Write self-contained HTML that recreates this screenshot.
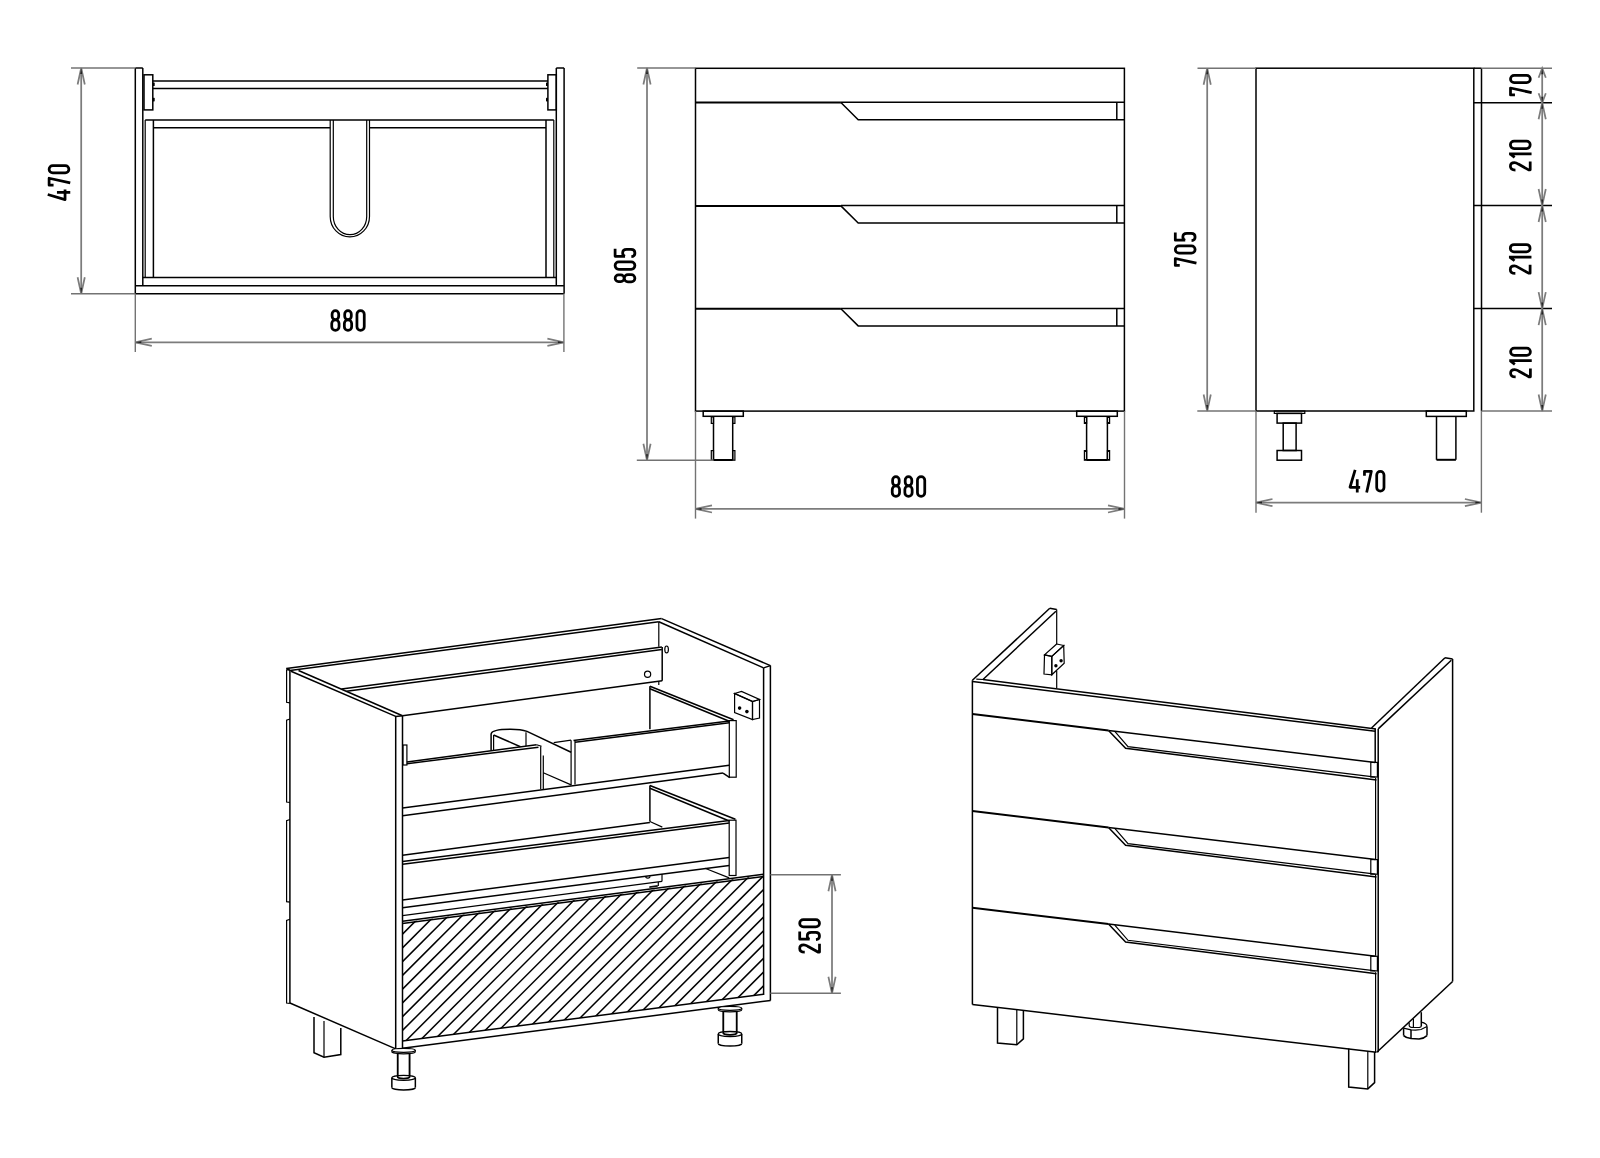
<!DOCTYPE html>
<html><head><meta charset="utf-8"><title>Cabinet drawing</title>
<style>
html,body{margin:0;padding:0;background:#fff;}
svg{display:block;}
.t{font-family:"Liberation Sans",sans-serif;font-weight:bold;font-size:31.7px;fill:#000;letter-spacing:1.5px;}
</style></head><body>
<svg width="1600" height="1158" viewBox="0 0 1600 1158" stroke-linecap="butt" stroke-linejoin="miter">
<rect width="1600" height="1158" fill="#fff"/>
<line x1="135.30" y1="68.00" x2="135.30" y2="293.80" stroke="#000" stroke-width="1.5" fill="none"/>
<line x1="142.80" y1="68.00" x2="142.80" y2="285.70" stroke="#000" stroke-width="1.5" fill="none"/>
<line x1="135.30" y1="68.00" x2="142.80" y2="68.00" stroke="#000" stroke-width="1.5" fill="none"/>
<line x1="556.30" y1="68.00" x2="564.10" y2="68.00" stroke="#000" stroke-width="1.5" fill="none"/>
<line x1="556.30" y1="68.00" x2="556.30" y2="285.60" stroke="#000" stroke-width="1.5" fill="none"/>
<line x1="564.10" y1="68.00" x2="564.10" y2="293.80" stroke="#000" stroke-width="1.5" fill="none"/>
<line x1="135.30" y1="285.70" x2="563.90" y2="285.70" stroke="#000" stroke-width="1.5" fill="none"/>
<line x1="135.30" y1="293.80" x2="563.90" y2="293.80" stroke="#000" stroke-width="1.5" fill="none"/>
<rect x="144.00" y="74.80" width="8.80" height="35.10" stroke="#000" stroke-width="1.5" fill="none"/>
<rect x="547.90" y="74.80" width="8.40" height="35.10" stroke="#000" stroke-width="1.5" fill="none"/>
<rect x="152.8" y="82.4" width="1.9" height="3.6" rx="0.6" fill="#000"/><rect x="152.8" y="97.8" width="1.9" height="3.6" rx="0.6" fill="#000"/>
<rect x="546.0" y="82.4" width="1.9" height="3.6" rx="0.6" fill="#000"/><rect x="546.0" y="97.8" width="1.9" height="3.6" rx="0.6" fill="#000"/>
<line x1="152.80" y1="80.90" x2="547.90" y2="80.90" stroke="#000" stroke-width="1.5" fill="none"/>
<line x1="152.80" y1="88.40" x2="547.90" y2="88.40" stroke="#000" stroke-width="1.5" fill="none"/>
<line x1="145.20" y1="120.00" x2="553.80" y2="120.00" stroke="#000" stroke-width="1.5" fill="none"/>
<line x1="145.20" y1="120.00" x2="145.20" y2="277.60" stroke="#000" stroke-width="1.2" fill="none"/>
<line x1="553.80" y1="120.00" x2="553.80" y2="277.60" stroke="#000" stroke-width="1.2" fill="none"/>
<line x1="153.40" y1="120.00" x2="153.40" y2="277.60" stroke="#000" stroke-width="1.5" fill="none"/>
<line x1="546.00" y1="120.00" x2="546.00" y2="277.60" stroke="#000" stroke-width="1.5" fill="none"/>
<line x1="142.80" y1="277.60" x2="556.30" y2="277.60" stroke="#000" stroke-width="1.5" fill="none"/>
<line x1="153.40" y1="127.80" x2="330.20" y2="127.80" stroke="#000" stroke-width="1.5" fill="none"/>
<line x1="369.50" y1="127.80" x2="546.00" y2="127.80" stroke="#000" stroke-width="1.5" fill="none"/>
<path d="M330.2,120 V216.4 A19.65,20.5 0 0 0 369.5,216.4 V120" stroke="#000" stroke-width="1.2" fill="none"/>
<path d="M333.3,120 V216.4 A16.7,18.3 0 0 0 366.7,216.4 V120" stroke="#000" stroke-width="1.2" fill="none"/>
<line x1="71.00" y1="68.00" x2="135.30" y2="68.00" stroke="#737373" stroke-width="1.4" fill="none"/>
<line x1="71.00" y1="293.80" x2="135.30" y2="293.80" stroke="#737373" stroke-width="1.4" fill="none"/>
<line x1="81.20" y1="68.00" x2="81.20" y2="293.80" stroke="#7c7c7c" stroke-width="1.75" fill="none"/>
<polyline points="84.80,84.50 81.20,68.00 77.60,84.50" stroke="#7c7c7c" stroke-width="1.75" fill="none"/>
<polygon points="81.20,68.00 82.20,74.00 80.20,74.00" fill="#222"/>
<polyline points="77.60,277.30 81.20,293.80 84.80,277.30" stroke="#7c7c7c" stroke-width="1.75" fill="none"/>
<polygon points="81.20,293.80 80.20,287.80 82.20,287.80" fill="#222"/>
<line x1="135.30" y1="293.80" x2="135.30" y2="352.00" stroke="#737373" stroke-width="1.4" fill="none"/>
<line x1="563.90" y1="293.80" x2="563.90" y2="352.00" stroke="#737373" stroke-width="1.4" fill="none"/>
<line x1="135.30" y1="342.30" x2="563.90" y2="342.30" stroke="#7c7c7c" stroke-width="1.75" fill="none"/>
<polyline points="151.80,338.70 135.30,342.30 151.80,345.90" stroke="#7c7c7c" stroke-width="1.75" fill="none"/>
<polygon points="135.30,342.30 141.30,341.30 141.30,343.30" fill="#222"/>
<polyline points="547.40,345.90 563.90,342.30 547.40,338.70" stroke="#7c7c7c" stroke-width="1.75" fill="none"/>
<polygon points="563.90,342.30 557.90,343.30 557.90,341.30" fill="#222"/>
<g transform="translate(47.75,200.95) rotate(-90) scale(1.0,1)" stroke="#000" stroke-width="2.75" fill="none" stroke-linejoin="round"><path transform="translate(0.00,0)" d="M6.5,0 L1.35,17.3 H11.5 M8.6,9.2 V22.5"/><path transform="translate(14.10,0)" d="M1.7,5.8 V1.35 H8.6 L3.9,22.5"/><path transform="translate(26.70,0)" d="M1.35,5 A3.65,3.65 0 0 1 8.65,5 V17.5 A3.65,3.65 0 0 1 1.35,17.5 Z"/></g>
<g transform="translate(330.40,309.25) scale(1.0,1)" stroke="#000" stroke-width="2.75" fill="none" stroke-linejoin="round"><path transform="translate(0.00,0)" d="M1.7,4.7 A3.3,3.3 0 0 1 8.3,4.7 V7.1 A3.3,3.3 0 0 1 1.7,7.1 Z M1.35,14.2 A3.65,3.65 0 0 1 8.65,14.2 V17.5 A3.65,3.65 0 0 1 1.35,17.5 Z"/><path transform="translate(12.60,0)" d="M1.7,4.7 A3.3,3.3 0 0 1 8.3,4.7 V7.1 A3.3,3.3 0 0 1 1.7,7.1 Z M1.35,14.2 A3.65,3.65 0 0 1 8.65,14.2 V17.5 A3.65,3.65 0 0 1 1.35,17.5 Z"/><path transform="translate(25.20,0)" d="M1.35,5 A3.65,3.65 0 0 1 8.65,5 V17.5 A3.65,3.65 0 0 1 1.35,17.5 Z"/></g>
<rect x="695.50" y="68.30" width="428.90" height="342.80" stroke="#000" stroke-width="1.5" fill="none"/>
<line x1="695.50" y1="102.50" x2="840.90" y2="102.50" stroke="#000" stroke-width="2" fill="none"/>
<polyline points="840.90,102.50 858.20,119.70 1124.40,119.70" stroke="#000" stroke-width="1.5" fill="none"/>
<line x1="1116.80" y1="102.20" x2="1116.80" y2="119.70" stroke="#000" stroke-width="1.5" fill="none"/>
<line x1="840.90" y1="102.20" x2="1124.40" y2="102.20" stroke="#000" stroke-width="1.5" fill="none"/>
<line x1="695.50" y1="205.90" x2="840.90" y2="205.90" stroke="#000" stroke-width="2" fill="none"/>
<polyline points="840.90,205.90 858.20,223.10 1124.40,223.10" stroke="#000" stroke-width="1.5" fill="none"/>
<line x1="1116.80" y1="205.60" x2="1116.80" y2="223.10" stroke="#000" stroke-width="1.5" fill="none"/>
<line x1="840.90" y1="205.60" x2="1124.40" y2="205.60" stroke="#000" stroke-width="1.5" fill="none"/>
<line x1="695.50" y1="308.70" x2="840.90" y2="308.70" stroke="#000" stroke-width="2" fill="none"/>
<polyline points="840.90,308.70 858.20,325.90 1124.40,325.90" stroke="#000" stroke-width="1.5" fill="none"/>
<line x1="1116.80" y1="308.40" x2="1116.80" y2="325.90" stroke="#000" stroke-width="1.5" fill="none"/>
<line x1="840.90" y1="308.40" x2="1124.40" y2="308.40" stroke="#000" stroke-width="1.5" fill="none"/>
<rect x="703.20" y="411.10" width="40.10" height="5.20" stroke="#000" stroke-width="1.5" fill="none"/>
<line x1="713.50" y1="416.30" x2="713.50" y2="460.00" stroke="#000" stroke-width="1.5" fill="none"/>
<line x1="732.70" y1="416.30" x2="732.70" y2="460.00" stroke="#000" stroke-width="1.5" fill="none"/>
<line x1="713.50" y1="460.00" x2="732.70" y2="460.00" stroke="#000" stroke-width="2" fill="none"/>
<rect x="711.30" y="416.90" width="2.20" height="6.50" stroke="#000" stroke-width="1.2" fill="none"/>
<rect x="732.70" y="416.90" width="2.20" height="6.50" stroke="#000" stroke-width="1.2" fill="none"/>
<rect x="711.30" y="450.60" width="2.20" height="9.60" stroke="#000" stroke-width="1.2" fill="none"/>
<rect x="732.70" y="450.60" width="2.20" height="9.60" stroke="#000" stroke-width="1.2" fill="none"/>
<rect x="1076.70" y="411.10" width="40.60" height="5.20" stroke="#000" stroke-width="1.5" fill="none"/>
<line x1="1086.60" y1="416.30" x2="1086.60" y2="460.00" stroke="#000" stroke-width="1.5" fill="none"/>
<line x1="1107.40" y1="416.30" x2="1107.40" y2="460.00" stroke="#000" stroke-width="1.5" fill="none"/>
<line x1="1086.60" y1="460.00" x2="1107.40" y2="460.00" stroke="#000" stroke-width="2" fill="none"/>
<rect x="1084.40" y="416.90" width="2.20" height="6.50" stroke="#000" stroke-width="1.2" fill="none"/>
<rect x="1107.40" y="416.90" width="2.20" height="6.50" stroke="#000" stroke-width="1.2" fill="none"/>
<rect x="1084.40" y="450.60" width="2.20" height="9.60" stroke="#000" stroke-width="1.2" fill="none"/>
<rect x="1107.40" y="450.60" width="2.20" height="9.60" stroke="#000" stroke-width="1.2" fill="none"/>
<line x1="637.20" y1="68.00" x2="695.50" y2="68.00" stroke="#737373" stroke-width="1.4" fill="none"/>
<line x1="636.80" y1="460.30" x2="713.50" y2="460.30" stroke="#737373" stroke-width="1.4" fill="none"/>
<line x1="647.00" y1="68.00" x2="647.00" y2="460.30" stroke="#7c7c7c" stroke-width="1.75" fill="none"/>
<polyline points="650.60,84.50 647.00,68.00 643.40,84.50" stroke="#7c7c7c" stroke-width="1.75" fill="none"/>
<polygon points="647.00,68.00 648.00,74.00 646.00,74.00" fill="#222"/>
<polyline points="643.40,443.80 647.00,460.30 650.60,443.80" stroke="#7c7c7c" stroke-width="1.75" fill="none"/>
<polygon points="647.00,460.30 646.00,454.30 648.00,454.30" fill="#222"/>
<line x1="695.50" y1="411.10" x2="695.50" y2="518.60" stroke="#737373" stroke-width="1.4" fill="none"/>
<line x1="1124.50" y1="411.10" x2="1124.50" y2="518.60" stroke="#737373" stroke-width="1.4" fill="none"/>
<line x1="695.50" y1="508.90" x2="1124.50" y2="508.90" stroke="#7c7c7c" stroke-width="1.75" fill="none"/>
<polyline points="712.00,505.30 695.50,508.90 712.00,512.50" stroke="#7c7c7c" stroke-width="1.75" fill="none"/>
<polygon points="695.50,508.90 701.50,507.90 701.50,509.90" fill="#222"/>
<polyline points="1108.00,512.50 1124.50,508.90 1108.00,505.30" stroke="#7c7c7c" stroke-width="1.75" fill="none"/>
<polygon points="1124.50,508.90 1118.50,509.90 1118.50,507.90" fill="#222"/>
<g transform="translate(613.75,283.20) rotate(-90) scale(1.0,1)" stroke="#000" stroke-width="2.75" fill="none" stroke-linejoin="round"><path transform="translate(0.00,0)" d="M1.7,4.7 A3.3,3.3 0 0 1 8.3,4.7 V7.1 A3.3,3.3 0 0 1 1.7,7.1 Z M1.35,14.2 A3.65,3.65 0 0 1 8.65,14.2 V17.5 A3.65,3.65 0 0 1 1.35,17.5 Z"/><path transform="translate(12.60,0)" d="M1.35,5 A3.65,3.65 0 0 1 8.65,5 V17.5 A3.65,3.65 0 0 1 1.35,17.5 Z"/><path transform="translate(25.20,0)" d="M9.3,1.35 H1.7 V11.3 M1.7,11.3 C2.2,9.6 3.4,8.9 5,8.9 C7.4,8.9 8.65,10.3 8.65,12.9 V17.3 C8.65,19.9 7.2,21.15 5,21.15 C2.8,21.15 1.5,19.9 1.35,17.6"/></g>
<g transform="translate(890.90,475.25) scale(1.0,1)" stroke="#000" stroke-width="2.75" fill="none" stroke-linejoin="round"><path transform="translate(0.00,0)" d="M1.7,4.7 A3.3,3.3 0 0 1 8.3,4.7 V7.1 A3.3,3.3 0 0 1 1.7,7.1 Z M1.35,14.2 A3.65,3.65 0 0 1 8.65,14.2 V17.5 A3.65,3.65 0 0 1 1.35,17.5 Z"/><path transform="translate(12.60,0)" d="M1.7,4.7 A3.3,3.3 0 0 1 8.3,4.7 V7.1 A3.3,3.3 0 0 1 1.7,7.1 Z M1.35,14.2 A3.65,3.65 0 0 1 8.65,14.2 V17.5 A3.65,3.65 0 0 1 1.35,17.5 Z"/><path transform="translate(25.20,0)" d="M1.35,5 A3.65,3.65 0 0 1 8.65,5 V17.5 A3.65,3.65 0 0 1 1.35,17.5 Z"/></g>
<rect x="1256.00" y="68.20" width="217.80" height="342.80" stroke="#000" stroke-width="1.5" fill="none"/>
<line x1="1481.50" y1="68.20" x2="1481.50" y2="411.00" stroke="#000" stroke-width="1.5" fill="none"/>
<line x1="1473.80" y1="68.20" x2="1481.50" y2="68.20" stroke="#000" stroke-width="1.5" fill="none"/>
<line x1="1473.80" y1="102.80" x2="1552.00" y2="102.80" stroke="#000" stroke-width="1.5" fill="none"/>
<line x1="1473.80" y1="205.50" x2="1552.00" y2="205.50" stroke="#000" stroke-width="1.5" fill="none"/>
<line x1="1473.80" y1="308.60" x2="1552.00" y2="308.60" stroke="#000" stroke-width="1.5" fill="none"/>
<rect x="1274.30" y="411.00" width="30.50" height="2.40" stroke="#000" stroke-width="1.2" fill="none"/>
<rect x="1277.10" y="413.40" width="24.40" height="9.70" stroke="#000" stroke-width="1.5" fill="none"/>
<rect x="1283.20" y="423.10" width="12.90" height="27.40" stroke="#000" stroke-width="1.5" fill="none"/>
<rect x="1277.10" y="450.50" width="24.40" height="9.70" stroke="#000" stroke-width="1.5" fill="none"/>
<rect x="1426.30" y="411.00" width="40.00" height="5.40" stroke="#000" stroke-width="1.5" fill="none"/>
<line x1="1436.50" y1="416.40" x2="1436.50" y2="459.80" stroke="#000" stroke-width="1.5" fill="none"/>
<line x1="1455.90" y1="416.40" x2="1455.90" y2="459.80" stroke="#000" stroke-width="1.5" fill="none"/>
<line x1="1436.50" y1="459.80" x2="1455.90" y2="459.80" stroke="#000" stroke-width="2" fill="none"/>
<line x1="1197.50" y1="68.20" x2="1256.00" y2="68.20" stroke="#737373" stroke-width="1.4" fill="none"/>
<line x1="1197.30" y1="411.00" x2="1256.00" y2="411.00" stroke="#737373" stroke-width="1.4" fill="none"/>
<line x1="1207.20" y1="68.20" x2="1207.20" y2="411.00" stroke="#7c7c7c" stroke-width="1.75" fill="none"/>
<polyline points="1210.80,84.70 1207.20,68.20 1203.60,84.70" stroke="#7c7c7c" stroke-width="1.75" fill="none"/>
<polygon points="1207.20,68.20 1208.20,74.20 1206.20,74.20" fill="#222"/>
<polyline points="1203.60,394.50 1207.20,411.00 1210.80,394.50" stroke="#7c7c7c" stroke-width="1.75" fill="none"/>
<polygon points="1207.20,411.00 1206.20,405.00 1208.20,405.00" fill="#222"/>
<line x1="1256.00" y1="411.00" x2="1256.00" y2="512.70" stroke="#737373" stroke-width="1.4" fill="none"/>
<line x1="1481.40" y1="411.00" x2="1481.40" y2="512.70" stroke="#737373" stroke-width="1.4" fill="none"/>
<line x1="1256.00" y1="502.60" x2="1481.40" y2="502.60" stroke="#7c7c7c" stroke-width="1.75" fill="none"/>
<polyline points="1272.50,499.00 1256.00,502.60 1272.50,506.20" stroke="#7c7c7c" stroke-width="1.75" fill="none"/>
<polygon points="1256.00,502.60 1262.00,501.60 1262.00,503.60" fill="#222"/>
<polyline points="1464.90,506.20 1481.40,502.60 1464.90,499.00" stroke="#7c7c7c" stroke-width="1.75" fill="none"/>
<polygon points="1481.40,502.60 1475.40,503.60 1475.40,501.60" fill="#222"/>
<line x1="1481.50" y1="68.20" x2="1552.00" y2="68.20" stroke="#737373" stroke-width="1.4" fill="none"/>
<line x1="1481.50" y1="411.00" x2="1552.00" y2="411.00" stroke="#737373" stroke-width="1.4" fill="none"/>
<line x1="1542.20" y1="68.20" x2="1542.20" y2="411.00" stroke="#7c7c7c" stroke-width="1.75" fill="none"/>
<polyline points="1545.80,77.70 1542.20,68.20 1538.60,77.70" stroke="#7c7c7c" stroke-width="1.75" fill="none"/>
<polygon points="1542.20,68.20 1543.20,74.20 1541.20,74.20" fill="#222"/>
<polyline points="1538.60,93.30 1542.20,102.80 1545.80,93.30" stroke="#7c7c7c" stroke-width="1.75" fill="none"/>
<polygon points="1542.20,102.80 1541.20,96.80 1543.20,96.80" fill="#222"/>
<polyline points="1545.80,119.30 1542.20,102.80 1538.60,119.30" stroke="#7c7c7c" stroke-width="1.75" fill="none"/>
<polygon points="1542.20,102.80 1543.20,108.80 1541.20,108.80" fill="#222"/>
<polyline points="1538.60,189.00 1542.20,205.50 1545.80,189.00" stroke="#7c7c7c" stroke-width="1.75" fill="none"/>
<polygon points="1542.20,205.50 1541.20,199.50 1543.20,199.50" fill="#222"/>
<polyline points="1545.80,222.00 1542.20,205.50 1538.60,222.00" stroke="#7c7c7c" stroke-width="1.75" fill="none"/>
<polygon points="1542.20,205.50 1543.20,211.50 1541.20,211.50" fill="#222"/>
<polyline points="1538.60,292.10 1542.20,308.60 1545.80,292.10" stroke="#7c7c7c" stroke-width="1.75" fill="none"/>
<polygon points="1542.20,308.60 1541.20,302.60 1543.20,302.60" fill="#222"/>
<polyline points="1545.80,325.10 1542.20,308.60 1538.60,325.10" stroke="#7c7c7c" stroke-width="1.75" fill="none"/>
<polygon points="1542.20,308.60 1543.20,314.60 1541.20,314.60" fill="#222"/>
<polyline points="1538.60,394.50 1542.20,411.00 1545.80,394.50" stroke="#7c7c7c" stroke-width="1.75" fill="none"/>
<polygon points="1542.20,411.00 1541.20,405.00 1543.20,405.00" fill="#222"/>
<g transform="translate(1173.95,267.10) rotate(-90) scale(1.0,1)" stroke="#000" stroke-width="2.75" fill="none" stroke-linejoin="round"><path transform="translate(0.00,0)" d="M1.7,5.8 V1.35 H8.6 L3.9,22.5"/><path transform="translate(12.60,0)" d="M1.35,5 A3.65,3.65 0 0 1 8.65,5 V17.5 A3.65,3.65 0 0 1 1.35,17.5 Z"/><path transform="translate(25.20,0)" d="M9.3,1.35 H1.7 V11.3 M1.7,11.3 C2.2,9.6 3.4,8.9 5,8.9 C7.4,8.9 8.65,10.3 8.65,12.9 V17.3 C8.65,19.9 7.2,21.15 5,21.15 C2.8,21.15 1.5,19.9 1.35,17.6"/></g>
<g transform="translate(1348.65,469.95) scale(1.0,1)" stroke="#000" stroke-width="2.75" fill="none" stroke-linejoin="round"><path transform="translate(0.00,0)" d="M6.5,0 L1.35,17.3 H11.5 M8.6,9.2 V22.5"/><path transform="translate(14.10,0)" d="M1.7,5.8 V1.35 H8.6 L3.9,22.5"/><path transform="translate(26.70,0)" d="M1.35,5 A3.65,3.65 0 0 1 8.65,5 V17.5 A3.65,3.65 0 0 1 1.35,17.5 Z"/></g>
<g transform="translate(1509.15,96.60) rotate(-90) scale(1.0,1)" stroke="#000" stroke-width="2.75" fill="none" stroke-linejoin="round"><path transform="translate(0.00,0)" d="M1.7,5.8 V1.35 H8.6 L3.9,22.5"/><path transform="translate(12.60,0)" d="M1.35,5 A3.65,3.65 0 0 1 8.65,5 V17.5 A3.65,3.65 0 0 1 1.35,17.5 Z"/></g>
<g transform="translate(1509.05,171.35) rotate(-90) scale(1.0,1)" stroke="#000" stroke-width="2.75" fill="none" stroke-linejoin="round"><path transform="translate(0.00,0)" d="M1.35,6.4 C1.35,3 3,1.35 5,1.35 C7.2,1.35 8.65,2.9 8.65,5.4 C8.65,7 8.1,8 7.3,9.3 L1.5,19.6 V21.15 H9.8"/><path transform="translate(12.60,0)" d="M5.0,0 V22.5 M5.0,0.8 L1.3,5.6"/><path transform="translate(21.50,0)" d="M1.35,5 A3.65,3.65 0 0 1 8.65,5 V17.5 A3.65,3.65 0 0 1 1.35,17.5 Z"/></g>
<g transform="translate(1508.95,274.65) rotate(-90) scale(1.0,1)" stroke="#000" stroke-width="2.75" fill="none" stroke-linejoin="round"><path transform="translate(0.00,0)" d="M1.35,6.4 C1.35,3 3,1.35 5,1.35 C7.2,1.35 8.65,2.9 8.65,5.4 C8.65,7 8.1,8 7.3,9.3 L1.5,19.6 V21.15 H9.8"/><path transform="translate(12.60,0)" d="M5.0,0 V22.5 M5.0,0.8 L1.3,5.6"/><path transform="translate(21.50,0)" d="M1.35,5 A3.65,3.65 0 0 1 8.65,5 V17.5 A3.65,3.65 0 0 1 1.35,17.5 Z"/></g>
<g transform="translate(1509.25,378.25) rotate(-90) scale(1.0,1)" stroke="#000" stroke-width="2.75" fill="none" stroke-linejoin="round"><path transform="translate(0.00,0)" d="M1.35,6.4 C1.35,3 3,1.35 5,1.35 C7.2,1.35 8.65,2.9 8.65,5.4 C8.65,7 8.1,8 7.3,9.3 L1.5,19.6 V21.15 H9.8"/><path transform="translate(12.60,0)" d="M5.0,0 V22.5 M5.0,0.8 L1.3,5.6"/><path transform="translate(21.50,0)" d="M1.35,5 A3.65,3.65 0 0 1 8.65,5 V17.5 A3.65,3.65 0 0 1 1.35,17.5 Z"/></g>
<line x1="289.90" y1="670.60" x2="289.90" y2="1003.00" stroke="#000" stroke-width="1.5" fill="none"/>
<polyline points="289.90,669.00 286.60,670.20 286.60,702.30 289.90,702.80" stroke="#000" stroke-width="1.2" fill="none"/>
<polyline points="289.90,719.00 286.60,720.20 286.60,802.00 289.90,802.50" stroke="#000" stroke-width="1.2" fill="none"/>
<polyline points="289.90,819.50 286.60,820.70 286.60,901.70 289.90,902.20" stroke="#000" stroke-width="1.2" fill="none"/>
<polyline points="289.90,919.20 286.60,920.40 286.60,1003.00 289.90,1003.50" stroke="#000" stroke-width="1.2" fill="none"/>
<line x1="286.40" y1="668.50" x2="290.00" y2="670.60" stroke="#000" stroke-width="1.5" fill="none"/>
<line x1="289.90" y1="1003.00" x2="395.70" y2="1048.90" stroke="#000" stroke-width="1.5" fill="none"/>
<line x1="291.00" y1="671.25" x2="395.70" y2="716.40" stroke="#000" stroke-width="1.5" fill="none"/>
<line x1="298.50" y1="670.50" x2="402.50" y2="715.70" stroke="#000" stroke-width="1.5" fill="none"/>
<line x1="395.70" y1="716.00" x2="395.70" y2="1049.00" stroke="#000" stroke-width="1.5" fill="none"/>
<line x1="402.50" y1="715.70" x2="402.50" y2="1048.40" stroke="#000" stroke-width="1.5" fill="none"/>
<line x1="395.70" y1="716.40" x2="402.50" y2="715.70" stroke="#000" stroke-width="1.5" fill="none"/>
<line x1="286.40" y1="668.50" x2="661.60" y2="618.60" stroke="#000" stroke-width="1.5" fill="none"/>
<line x1="290.00" y1="670.60" x2="658.80" y2="621.70" stroke="#000" stroke-width="1.5" fill="none"/>
<line x1="658.80" y1="621.70" x2="658.80" y2="646.80" stroke="#000" stroke-width="1.2" fill="none"/>
<line x1="658.80" y1="681.20" x2="658.80" y2="685.10" stroke="#000" stroke-width="1.2" fill="none"/>
<line x1="661.60" y1="618.60" x2="770.40" y2="665.60" stroke="#000" stroke-width="1.5" fill="none"/>
<line x1="658.80" y1="621.70" x2="763.60" y2="667.90" stroke="#000" stroke-width="1.5" fill="none"/>
<line x1="763.60" y1="667.90" x2="763.60" y2="995.00" stroke="#000" stroke-width="1.5" fill="none"/>
<line x1="770.40" y1="665.60" x2="770.40" y2="1000.50" stroke="#000" stroke-width="1.5" fill="none"/>
<line x1="763.60" y1="667.90" x2="770.40" y2="665.60" stroke="#000" stroke-width="1.5" fill="none"/>
<line x1="341.50" y1="689.00" x2="661.90" y2="647.10" stroke="#000" stroke-width="1.5" fill="none"/>
<line x1="346.50" y1="691.20" x2="661.90" y2="649.60" stroke="#000" stroke-width="1.5" fill="none"/>
<line x1="662.20" y1="647.10" x2="662.20" y2="680.80" stroke="#000" stroke-width="1.5" fill="none"/>
<line x1="402.50" y1="715.70" x2="662.20" y2="680.80" stroke="#000" stroke-width="1.5" fill="none"/>
<ellipse cx="666.6" cy="649.4" rx="1.8" ry="3.4" stroke="#000" stroke-width="1.2" fill="none"/>
<circle cx="647.6" cy="674.2" r="3.1" stroke="#000" stroke-width="1.2" fill="none"/>
<polygon points="734.60,693.50 741.50,691.50 759.50,699.50 752.50,701.50" stroke="#000" stroke-width="1.2" fill="none"/>
<polygon points="734.60,693.50 734.60,712.50 752.50,719.50 752.50,701.50" stroke="#000" stroke-width="1.2" fill="none"/>
<polygon points="752.50,701.50 759.50,699.50 759.50,718.00 752.50,719.50" stroke="#000" stroke-width="1.2" fill="none"/>
<circle cx="739.6" cy="708.1" r="1.8" fill="#000"/><circle cx="746.9" cy="711.6" r="1.8" fill="#000"/>
<line x1="649.90" y1="686.30" x2="649.90" y2="729.30" stroke="#000" stroke-width="1.5" fill="none"/>
<line x1="649.90" y1="686.30" x2="733.60" y2="719.70" stroke="#000" stroke-width="1.5" fill="none"/>
<line x1="649.90" y1="688.80" x2="729.30" y2="721.20" stroke="#000" stroke-width="1.5" fill="none"/>
<rect x="729.30" y="720.60" width="6.90" height="56.60" stroke="#000" stroke-width="1.2" fill="none"/>
<line x1="406.90" y1="761.90" x2="536.60" y2="744.70" stroke="#000" stroke-width="1.5" fill="none"/>
<line x1="406.90" y1="763.70" x2="538.50" y2="747.30" stroke="#000" stroke-width="1.5" fill="none"/>
<line x1="573.50" y1="740.60" x2="729.30" y2="720.90" stroke="#000" stroke-width="1.5" fill="none"/>
<line x1="575.00" y1="742.30" x2="729.30" y2="722.70" stroke="#000" stroke-width="1.5" fill="none"/>
<line x1="402.50" y1="808.00" x2="729.30" y2="765.30" stroke="#000" stroke-width="1.5" fill="none"/>
<line x1="402.50" y1="815.70" x2="723.00" y2="773.10" stroke="#000" stroke-width="1.5" fill="none"/>
<line x1="723.00" y1="773.10" x2="729.80" y2="777.60" stroke="#000" stroke-width="1.5" fill="none"/>
<rect x="403.00" y="745.00" width="3.90" height="20.00" stroke="#000" stroke-width="1.2" fill="none"/>
<line x1="536.60" y1="744.70" x2="541.50" y2="746.30" stroke="#000" stroke-width="1.2" fill="none"/>
<line x1="540.70" y1="746.30" x2="540.70" y2="789.30" stroke="#000" stroke-width="1.2" fill="none"/>
<line x1="543.30" y1="755.50" x2="543.30" y2="788.90" stroke="#000" stroke-width="1.2" fill="none"/>
<line x1="571.10" y1="740.20" x2="571.10" y2="784.90" stroke="#000" stroke-width="1.2" fill="none"/>
<line x1="575.00" y1="741.00" x2="575.00" y2="784.50" stroke="#000" stroke-width="1.2" fill="none"/>
<line x1="553.70" y1="742.60" x2="571.10" y2="740.20" stroke="#000" stroke-width="1.2" fill="none"/>
<line x1="543.30" y1="772.70" x2="571.10" y2="784.90" stroke="#000" stroke-width="1.2" fill="none"/>
<path d="M491.1,750.3 V734 C491.5,730.5 500,729.2 510.6,729.2 C518,729.2 524,730.3 527,731.4 L571.1,752.2" stroke="#000" stroke-width="1.5" fill="none"/>
<line x1="493.60" y1="735.00" x2="493.60" y2="750.30" stroke="#000" stroke-width="1.2" fill="none"/>
<line x1="493.60" y1="735.00" x2="520.40" y2="746.70" stroke="#000" stroke-width="1.5" fill="none"/>
<line x1="526.00" y1="732.30" x2="526.00" y2="745.90" stroke="#000" stroke-width="1.2" fill="none"/>
<line x1="649.90" y1="785.50" x2="649.90" y2="821.50" stroke="#000" stroke-width="1.5" fill="none"/>
<line x1="649.90" y1="785.50" x2="735.40" y2="819.30" stroke="#000" stroke-width="1.5" fill="none"/>
<line x1="649.90" y1="788.20" x2="729.30" y2="821.00" stroke="#000" stroke-width="1.5" fill="none"/>
<rect x="729.20" y="820.20" width="6.80" height="55.30" stroke="#000" stroke-width="1.2" fill="none"/>
<line x1="402.50" y1="855.30" x2="649.90" y2="822.60" stroke="#000" stroke-width="1.5" fill="none"/>
<line x1="649.90" y1="821.50" x2="662.30" y2="827.10" stroke="#000" stroke-width="1.2" fill="none"/>
<line x1="402.50" y1="861.60" x2="729.20" y2="820.40" stroke="#000" stroke-width="1.5" fill="none"/>
<line x1="402.50" y1="864.30" x2="729.20" y2="822.90" stroke="#000" stroke-width="1.5" fill="none"/>
<line x1="402.50" y1="900.00" x2="729.20" y2="857.50" stroke="#000" stroke-width="1.5" fill="none"/>
<line x1="402.50" y1="907.70" x2="729.20" y2="865.40" stroke="#000" stroke-width="1.5" fill="none"/>
<line x1="705.00" y1="868.20" x2="729.20" y2="877.90" stroke="#000" stroke-width="1.2" fill="none"/>
<line x1="402.50" y1="915.60" x2="662.00" y2="881.40" stroke="#000" stroke-width="1.2" fill="none"/>
<line x1="662.00" y1="874.00" x2="662.00" y2="881.40" stroke="#000" stroke-width="1.2" fill="none"/>
<path d="M645.6,876.3 A2.2,1.8 0 0 0 650,876.3" stroke="#000" stroke-width="1.2" fill="none"/>
<line x1="658.30" y1="882.00" x2="658.30" y2="886.00" stroke="#000" stroke-width="1.2" fill="none"/>
<polygon points="649.3,886.2 657.8,884.9 657.8,886.8 649.3,888" fill="#111"/>
<line x1="402.50" y1="921.20" x2="763.50" y2="874.20" stroke="#000" stroke-width="1.5" fill="none"/>
<line x1="402.50" y1="923.60" x2="763.50" y2="876.60" stroke="#000" stroke-width="1.5" fill="none"/>
<line x1="402.50" y1="1041.00" x2="763.50" y2="994.20" stroke="#000" stroke-width="1.5" fill="none"/>
<clipPath id="hc"><polygon points="402.5,922.5 763.5,875.3 763.5,994.2 402.5,1041"/></clipPath>
<g clip-path="url(#hc)" stroke="#000" stroke-width="1.5"><line x1="380" y1="887.80" x2="790" y2="477.80"/><line x1="380" y1="901.56" x2="790" y2="491.56"/><line x1="380" y1="915.32" x2="790" y2="505.32"/><line x1="380" y1="929.08" x2="790" y2="519.08"/><line x1="380" y1="942.84" x2="790" y2="532.84"/><line x1="380" y1="956.60" x2="790" y2="546.60"/><line x1="380" y1="970.36" x2="790" y2="560.36"/><line x1="380" y1="984.12" x2="790" y2="574.12"/><line x1="380" y1="997.88" x2="790" y2="587.88"/><line x1="380" y1="1011.64" x2="790" y2="601.64"/><line x1="380" y1="1025.40" x2="790" y2="615.40"/><line x1="380" y1="1039.16" x2="790" y2="629.16"/><line x1="380" y1="1052.92" x2="790" y2="642.92"/><line x1="380" y1="1066.68" x2="790" y2="656.68"/><line x1="380" y1="1080.44" x2="790" y2="670.44"/><line x1="380" y1="1094.20" x2="790" y2="684.20"/><line x1="380" y1="1107.96" x2="790" y2="697.96"/><line x1="380" y1="1121.72" x2="790" y2="711.72"/><line x1="380" y1="1135.48" x2="790" y2="725.48"/><line x1="380" y1="1149.24" x2="790" y2="739.24"/><line x1="380" y1="1163.00" x2="790" y2="753.00"/><line x1="380" y1="1176.76" x2="790" y2="766.76"/><line x1="380" y1="1190.52" x2="790" y2="780.52"/><line x1="380" y1="1204.28" x2="790" y2="794.28"/><line x1="380" y1="1218.04" x2="790" y2="808.04"/><line x1="380" y1="1231.80" x2="790" y2="821.80"/><line x1="380" y1="1245.56" x2="790" y2="835.56"/><line x1="380" y1="1259.32" x2="790" y2="849.32"/><line x1="380" y1="1273.08" x2="790" y2="863.08"/><line x1="380" y1="1286.84" x2="790" y2="876.84"/><line x1="380" y1="1300.60" x2="790" y2="890.60"/><line x1="380" y1="1314.36" x2="790" y2="904.36"/><line x1="380" y1="1328.12" x2="790" y2="918.12"/><line x1="380" y1="1341.88" x2="790" y2="931.88"/><line x1="380" y1="1355.64" x2="790" y2="945.64"/><line x1="380" y1="1369.40" x2="790" y2="959.40"/><line x1="380" y1="1383.16" x2="790" y2="973.16"/><line x1="380" y1="1396.92" x2="790" y2="986.92"/><line x1="380" y1="1410.68" x2="790" y2="1000.68"/><line x1="380" y1="1424.44" x2="790" y2="1014.44"/><line x1="380" y1="1438.20" x2="790" y2="1028.20"/></g>
<line x1="402.50" y1="1048.30" x2="770.60" y2="1000.50" stroke="#000" stroke-width="1.5" fill="none"/>
<polyline points="314.00,1017.00 314.00,1052.80 324.00,1057.20 340.80,1054.60 340.80,1028.00" stroke="#000" stroke-width="1.5" fill="none"/>
<line x1="324.00" y1="1021.00" x2="324.00" y2="1057.20" stroke="#000" stroke-width="1.2" fill="none"/>
<ellipse cx="403.6" cy="1050.3" rx="11.75" ry="2" stroke="#000" stroke-width="1.2" fill="#fff"/>
<line x1="391.85" y1="1050.30" x2="391.85" y2="1051.80" stroke="#000" stroke-width="1.2" fill="none"/>
<line x1="415.35" y1="1050.30" x2="415.35" y2="1051.80" stroke="#000" stroke-width="1.2" fill="none"/>
<path d="M391.85,1051.8 A11.75,2 0 0 0 415.35,1051.8" stroke="#000" stroke-width="1.2" fill="none"/>
<line x1="397.65" y1="1053.80" x2="397.65" y2="1077.80" stroke="#000" stroke-width="1.5" fill="none"/>
<line x1="409.55" y1="1053.80" x2="409.55" y2="1077.80" stroke="#000" stroke-width="1.5" fill="none"/>
<ellipse cx="403.6" cy="1077.8" rx="11.75" ry="2.5" stroke="#000" stroke-width="1.3" fill="#fff"/>
<line x1="397.65" y1="1053.80" x2="397.65" y2="1077.30" stroke="#000" stroke-width="1.5" fill="none"/>
<line x1="409.55" y1="1053.80" x2="409.55" y2="1077.30" stroke="#000" stroke-width="1.5" fill="none"/>
<path d="M397.65000000000003,1076.8 A5.95,1.8 0 0 0 409.55,1076.8" stroke="#000" stroke-width="1.8" fill="none"/>
<line x1="391.85" y1="1077.80" x2="391.85" y2="1087.40" stroke="#000" stroke-width="1.5" fill="none"/>
<line x1="415.35" y1="1077.80" x2="415.35" y2="1087.40" stroke="#000" stroke-width="1.5" fill="none"/>
<path d="M391.85,1087.3999999999999 A11.75,2.5 0 0 0 415.35,1087.3999999999999" stroke="#000" stroke-width="1.5" fill="none"/>
<ellipse cx="730" cy="1008.3" rx="11.75" ry="2" stroke="#000" stroke-width="1.2" fill="#fff"/>
<line x1="718.25" y1="1008.30" x2="718.25" y2="1009.80" stroke="#000" stroke-width="1.2" fill="none"/>
<line x1="741.75" y1="1008.30" x2="741.75" y2="1009.80" stroke="#000" stroke-width="1.2" fill="none"/>
<path d="M718.25,1009.8 A11.75,2 0 0 0 741.75,1009.8" stroke="#000" stroke-width="1.2" fill="none"/>
<line x1="723.35" y1="1011.80" x2="723.35" y2="1034.00" stroke="#000" stroke-width="1.5" fill="none"/>
<line x1="736.65" y1="1011.80" x2="736.65" y2="1034.00" stroke="#000" stroke-width="1.5" fill="none"/>
<ellipse cx="730" cy="1034" rx="11.75" ry="2.5" stroke="#000" stroke-width="1.3" fill="#fff"/>
<line x1="723.35" y1="1011.80" x2="723.35" y2="1033.50" stroke="#000" stroke-width="1.5" fill="none"/>
<line x1="736.65" y1="1011.80" x2="736.65" y2="1033.50" stroke="#000" stroke-width="1.5" fill="none"/>
<path d="M723.35,1033 A6.65,1.8 0 0 0 736.65,1033" stroke="#000" stroke-width="1.8" fill="none"/>
<line x1="718.25" y1="1034.00" x2="718.25" y2="1043.60" stroke="#000" stroke-width="1.5" fill="none"/>
<line x1="741.75" y1="1034.00" x2="741.75" y2="1043.60" stroke="#000" stroke-width="1.5" fill="none"/>
<path d="M718.25,1043.6 A11.75,2.5 0 0 0 741.75,1043.6" stroke="#000" stroke-width="1.5" fill="none"/>
<line x1="770.40" y1="874.80" x2="840.90" y2="874.80" stroke="#737373" stroke-width="1.4" fill="none"/>
<line x1="770.40" y1="993.20" x2="840.90" y2="993.20" stroke="#737373" stroke-width="1.4" fill="none"/>
<line x1="832.00" y1="874.80" x2="832.00" y2="993.20" stroke="#7c7c7c" stroke-width="1.75" fill="none"/>
<polyline points="835.60,891.30 832.00,874.80 828.40,891.30" stroke="#7c7c7c" stroke-width="1.75" fill="none"/>
<polygon points="832.00,874.80 833.00,880.80 831.00,880.80" fill="#222"/>
<polyline points="828.40,976.70 832.00,993.20 835.60,976.70" stroke="#7c7c7c" stroke-width="1.75" fill="none"/>
<polygon points="832.00,993.20 831.00,987.20 833.00,987.20" fill="#222"/>
<g transform="translate(798.35,953.50) rotate(-90) scale(1.0,1)" stroke="#000" stroke-width="2.75" fill="none" stroke-linejoin="round"><path transform="translate(0.00,0)" d="M1.35,6.4 C1.35,3 3,1.35 5,1.35 C7.2,1.35 8.65,2.9 8.65,5.4 C8.65,7 8.1,8 7.3,9.3 L1.5,19.6 V21.15 H9.8"/><path transform="translate(12.60,0)" d="M9.3,1.35 H1.7 V11.3 M1.7,11.3 C2.2,9.6 3.4,8.9 5,8.9 C7.4,8.9 8.65,10.3 8.65,12.9 V17.3 C8.65,19.9 7.2,21.15 5,21.15 C2.8,21.15 1.5,19.9 1.35,17.6"/><path transform="translate(25.20,0)" d="M1.35,5 A3.65,3.65 0 0 1 8.65,5 V17.5 A3.65,3.65 0 0 1 1.35,17.5 Z"/></g>
<line x1="972.40" y1="680.30" x2="1049.80" y2="608.30" stroke="#000" stroke-width="1.5" fill="none"/>
<line x1="1049.80" y1="608.30" x2="1056.70" y2="609.50" stroke="#000" stroke-width="1.5" fill="none"/>
<line x1="983.00" y1="679.50" x2="1055.90" y2="611.20" stroke="#000" stroke-width="1.5" fill="none"/>
<line x1="1056.70" y1="609.50" x2="1056.70" y2="644.00" stroke="#000" stroke-width="1.2" fill="none"/>
<line x1="1056.70" y1="671.00" x2="1056.70" y2="688.10" stroke="#000" stroke-width="1.2" fill="none"/>
<polygon points="1056.70,644.00 1063.70,645.50 1051.80,656.40 1044.50,654.90" stroke="#000" stroke-width="1.2" fill="none"/>
<polygon points="1044.50,654.90 1051.80,656.40 1051.80,674.80 1044.00,674.00" stroke="#000" stroke-width="1.2" fill="none"/>
<polygon points="1051.80,656.40 1063.70,645.50 1064.20,663.20 1051.80,674.80" stroke="#000" stroke-width="1.2" fill="none"/>
<circle cx="1055.9" cy="665.8" r="1.7" fill="#000"/><circle cx="1061.1" cy="660.8" r="1.7" fill="#000"/>
<line x1="972.40" y1="680.30" x2="972.40" y2="1004.40" stroke="#000" stroke-width="1.5" fill="none"/>
<line x1="983.00" y1="679.50" x2="1376.00" y2="728.90" stroke="#000" stroke-width="1.5" fill="none"/>
<line x1="972.50" y1="681.50" x2="1375.20" y2="731.20" stroke="#000" stroke-width="1.5" fill="none"/>
<line x1="976.30" y1="679.10" x2="983.00" y2="679.50" stroke="#000" stroke-width="1.2" fill="none"/>
<line x1="972.40" y1="714.00" x2="1108.50" y2="730.40" stroke="#000" stroke-width="2" fill="none"/>
<line x1="1108.50" y1="730.40" x2="1375.20" y2="762.40" stroke="#000" stroke-width="1.5" fill="none"/>
<line x1="1375.20" y1="729.00" x2="1375.20" y2="762.40" stroke="#000" stroke-width="1.5" fill="none"/>
<line x1="1378.20" y1="728.90" x2="1378.20" y2="1052.30" stroke="#000" stroke-width="1.5" fill="none"/>
<polyline points="1108.50,730.40 1125.60,748.30 1376.50,780.04" stroke="#000" stroke-width="1.5" fill="none"/>
<polyline points="1114.80,731.40 1128.00,746.60 1375.50,777.17" stroke="#000" stroke-width="1.2" fill="none"/>
<polyline points="1108.50,827.40 1125.60,845.30 1376.50,877.04" stroke="#000" stroke-width="1.5" fill="none"/>
<polyline points="1114.80,828.40 1128.00,843.60 1375.50,874.17" stroke="#000" stroke-width="1.2" fill="none"/>
<polyline points="1108.50,924.10 1125.60,942.00 1376.50,973.74" stroke="#000" stroke-width="1.5" fill="none"/>
<polyline points="1114.80,925.10 1128.00,940.30 1375.50,970.87" stroke="#000" stroke-width="1.2" fill="none"/>
<line x1="972.40" y1="811.00" x2="1108.50" y2="827.40" stroke="#000" stroke-width="2" fill="none"/>
<line x1="1108.50" y1="827.40" x2="1375.60" y2="859.59" stroke="#000" stroke-width="1.5" fill="none"/>
<rect x="1370.80" y="859.59" width="6.60" height="14.60" stroke="#000" stroke-width="1.2" fill="none"/>
<line x1="972.40" y1="907.70" x2="1108.50" y2="924.10" stroke="#000" stroke-width="2" fill="none"/>
<line x1="1108.50" y1="924.10" x2="1375.60" y2="956.29" stroke="#000" stroke-width="1.5" fill="none"/>
<rect x="1370.80" y="956.29" width="6.60" height="14.60" stroke="#000" stroke-width="1.2" fill="none"/>
<rect x="1370.80" y="762.40" width="6.60" height="14.60" stroke="#000" stroke-width="1.2" fill="none"/>
<line x1="1375.60" y1="778.00" x2="1375.60" y2="859.00" stroke="#000" stroke-width="1.2" fill="none"/>
<line x1="1375.60" y1="874.60" x2="1375.60" y2="955.70" stroke="#000" stroke-width="1.2" fill="none"/>
<line x1="1375.60" y1="972.20" x2="1375.60" y2="1052.30" stroke="#000" stroke-width="1.2" fill="none"/>
<line x1="972.40" y1="1004.40" x2="1376.50" y2="1052.30" stroke="#000" stroke-width="1.5" fill="none"/>
<line x1="1371.50" y1="728.00" x2="1445.00" y2="657.80" stroke="#000" stroke-width="1.5" fill="none"/>
<line x1="1445.00" y1="657.80" x2="1452.60" y2="659.00" stroke="#000" stroke-width="1.5" fill="none"/>
<line x1="1378.20" y1="728.90" x2="1451.30" y2="660.30" stroke="#000" stroke-width="1.5" fill="none"/>
<line x1="1452.60" y1="659.00" x2="1452.60" y2="981.50" stroke="#000" stroke-width="1.5" fill="none"/>
<line x1="1452.60" y1="981.50" x2="1376.80" y2="1052.30" stroke="#000" stroke-width="1.5" fill="none"/>
<polyline points="997.50,1007.30 997.50,1043.10 1016.80,1044.80 1023.40,1038.80 1023.40,1010.50" stroke="#000" stroke-width="1.5" fill="none"/>
<line x1="1016.80" y1="1009.60" x2="1016.80" y2="1044.80" stroke="#000" stroke-width="1.2" fill="none"/>
<polyline points="1348.70,1048.50 1348.70,1087.10 1367.80,1088.90 1374.60,1082.60 1374.60,1052.00" stroke="#000" stroke-width="1.5" fill="none"/>
<line x1="1367.80" y1="1051.00" x2="1367.80" y2="1088.90" stroke="#000" stroke-width="1.2" fill="none"/>
<line x1="1421.30" y1="1012.20" x2="1421.30" y2="1026.00" stroke="#000" stroke-width="1.5" fill="none"/>
<line x1="1409.20" y1="1022.80" x2="1409.20" y2="1026.00" stroke="#000" stroke-width="1.2" fill="none"/>
<line x1="1413.40" y1="1019.00" x2="1413.40" y2="1027.50" stroke="#000" stroke-width="1.2" fill="none"/>
<path d="M1409.2,1026 Q1410,1027.6 1414,1027.5 L1419.5,1027.3 Q1421.3,1027 1421.3,1026" stroke="#000" stroke-width="1.2" fill="none"/>
<path d="M1403.6,1028.2 L1411,1029.8 L1415.5,1030.2 L1421,1029.5 L1427,1026.5" stroke="#000" stroke-width="1.2" fill="none"/>
<path d="M1421.3,1022.2 Q1427,1023.5 1427,1026.5" stroke="#000" stroke-width="1.2" fill="none"/>
<line x1="1403.60" y1="1028.20" x2="1403.60" y2="1035.60" stroke="#000" stroke-width="1.5" fill="none"/>
<line x1="1411.00" y1="1029.80" x2="1411.00" y2="1038.50" stroke="#000" stroke-width="1.5" fill="none"/>
<line x1="1427.00" y1="1026.50" x2="1427.00" y2="1035.60" stroke="#000" stroke-width="1.5" fill="none"/>
<path d="M1403.6,1035.6 Q1406,1038 1411,1038.6 L1419,1039 Q1424,1038.5 1427,1035.6" stroke="#000" stroke-width="1.5" fill="none"/>
</svg>
</body></html>
